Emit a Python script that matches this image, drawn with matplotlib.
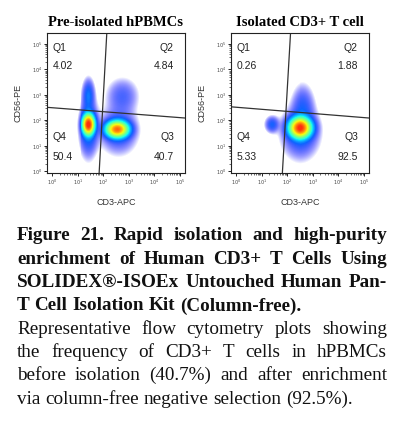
import numpy as np
import matplotlib
matplotlib.use("Agg")
import matplotlib.pyplot as plt

titles = ["Pre-isolated hPBMCs", "Isolated CD3+ T cell"]
quad_labels = ["Q1", "Q2", "Q3", "Q4"]
quad_values = [["4.02", "4.84", "40.7", "50.4"], ["0.26", "1.88", "92.5", "5.33"]]
# gate lines (log10 units): vertical (x at top, x at bottom), horizontal (y at left, y at right)
vgate = [(2.14, 1.84), (2.13, 1.81)]
hgate = [(2.51, 2.09), (2.53, 2.09)]
# populations: (x center log, y center log, sx, sy, weight)
pops = [
    [(1.43, 1.83, 0.13, 0.22, 1.0), (2.55, 1.64, 0.24, 0.18, 0.8),
     (1.43, 3.0, 0.13, 0.35, 0.06), (2.75, 2.95, 0.35, 0.4, 0.03),
     (1.43, 1.7, 0.2, 0.6, 0.08), (2.6, 1.6, 0.4, 0.5, 0.05)],
    [(2.49, 1.70, 0.24, 0.22, 1.0), (1.38, 1.83, 0.15, 0.18, 0.05),
     (2.6, 2.5, 0.25, 0.5, 0.04), (2.5, 1.5, 0.4, 0.55, 0.06)],
]
xlabel = "CD3-APC"
ylabel = "CD56-PE"
cap_bold = ["Figure 21. Rapid isolation and high-purity",
            "enrichment of Human CD3+ T Cells Using",
            "SOLIDEX\u00ae-ISOEx Untouched Human Pan-",
            "T Cell Isolation Kit (Column-free)."]
cap_reg = ["Representative flow cytometry plots showing",
           "the frequency of CD3+ T cells in hPBMCs",
           "before isolation (40.7%) and after enrichment",
           "via column-free negative selection (92.5%)."]

fig = plt.figure(figsize=(4.05, 4.25), dpi=100)
W, H = 405, 425
jet = plt.cm.jet

def ax_rect(l, t, r, b):
    return [l / W, 1 - b / H, (r - l) / W, (b - t) / H]

lefts = [47, 231]
for i in range(2):
    l = lefts[i]
    ax = fig.add_axes(ax_rect(l, 33, l + 138, 173))
    xs = np.linspace(-0.2, 5.2, 140)
    ys = np.linspace(-0.07, 5.43, 140)
    X, Y = np.meshgrid(xs, ys)
    D = np.zeros_like(X)
    for cx, cy, sx, sy, w in pops[i]:
        D += w * np.exp(-0.5 * (((X - cx) / sx) ** 2 + ((Y - cy) / sy) ** 2))
    L = np.clip((np.log10(np.maximum(D, 1e-9)) + 2.3) / 2.3, 0, 1)
    rgba = jet(0.12 + 0.75 * L ** 2.6)
    rgba[..., 3] = np.clip(L * 2.2, 0, 1) * 0.95
    ax.imshow(rgba, extent=(xs[0], xs[-1], ys[0], ys[-1]), origin="lower",
              aspect="auto", interpolation="nearest")
    ax.set_xlim(-0.2, 5.2)
    ax.set_ylim(-0.07, 5.43)
    (vt, vb), (hl, hr) = vgate[i], hgate[i]
    ax.plot([vb, vt], [-0.07, 5.43], color="#333333", lw=0.9)
    ax.plot([-0.2, 5.2], [hl, hr], color="#333333", lw=0.9)
    ax.set_xticks(range(6))
    ax.set_yticks(range(6))
    ax.set_xticklabels([f"$10^{k}$" for k in range(6)], fontsize=3.5, color="#444")
    ax.set_yticklabels([f"$10^{k}$" for k in range(6)], fontsize=3.5, color="#444")
    minor = [k + np.log10(m) for k in range(5) for m in range(2, 10)]
    ax.set_xticks(minor, minor=True)
    ax.set_yticks(minor, minor=True)
    ax.tick_params(length=2.5, width=0.6, pad=1)
    ax.tick_params(which="minor", length=1.3, width=0.4)
    for s in ax.spines.values():
        s.set_linewidth(0.8)
        s.set_color("#222")
    v = quad_values[i]
    kw = dict(transform=ax.transAxes, fontsize=7.5, color="#222", family="Liberation Sans")
    ax.text(0.04, 0.93, quad_labels[0], va="top", ha="left", **kw)
    ax.text(0.04, 0.80, v[0], va="top", ha="left", **kw)
    ax.text(0.92, 0.93, quad_labels[1], va="top", ha="right", **kw)
    ax.text(0.92, 0.80, v[1], va="top", ha="right", **kw)
    ax.text(0.92, 0.22, quad_labels[2], va="bottom", ha="right", **kw)
    ax.text(0.92, 0.08, v[2], va="bottom", ha="right", **kw)
    ax.text(0.04, 0.22, quad_labels[3], va="bottom", ha="left", **kw)
    ax.text(0.04, 0.08, v[3], va="bottom", ha="left", **kw)
    fig.text((l + 69) / W, 1 - 23 / H, titles[i], ha="center", va="center",
             fontsize=10.5, fontweight="bold", family="Liberation Serif")
    fig.text((l + 69) / W, 1 - 202 / H, xlabel, ha="center", va="center",
             fontsize=6.5, color="#333", family="Liberation Sans")
    fig.text((l - 29) / W, 1 - 103 / H, ylabel, ha="center", va="center",
             rotation=90, fontsize=6.5, color="#333", family="Liberation Sans")

renderer = fig.canvas.get_renderer()
x0, x1 = 17, 387

def justified(line, ypx, bold, justify):
    words = line.split(" ")
    kw = dict(fontsize=13.8, family="Liberation Serif", va="center", ha="left",
              fontweight="bold" if bold else "normal", color="#111")
    texts = [fig.text(0, 1 - ypx / H, w_, **kw) for w_ in words]
    widths = [t.get_window_extent(renderer).width for t in texts]
    space = 13.8 * 0.25 * 100 / 72
    if justify and len(words) > 1:
        space = (x1 - x0 - sum(widths)) / (len(words) - 1)
    x = x0
    for t, wd in zip(texts, widths):
        t.set_x(x / W)
        x += wd + space

ypos = 236
for k, line in enumerate(cap_bold):
    justified(line, ypos, True, k < len(cap_bold) - 1)
    ypos += 23.3
for k, line in enumerate(cap_reg):
    justified(line, ypos, False, k < len(cap_reg) - 1)
    ypos += 23.3

fig.savefig("out.png", dpi=100)
